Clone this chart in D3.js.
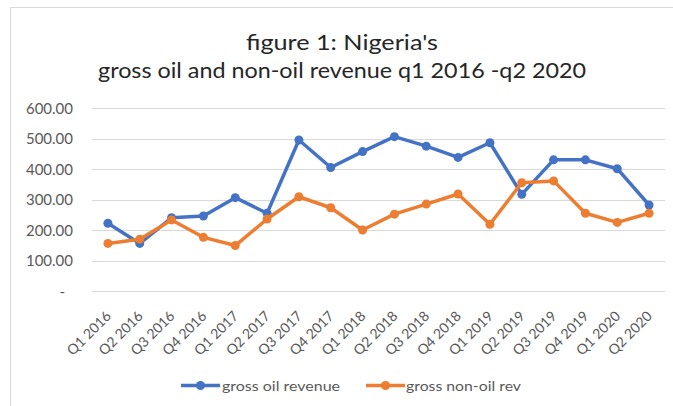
<!DOCTYPE html>
<html>
<head>
<meta charset="utf-8">
<script src="https://cdn.jsdelivr.net/npm/d3@7"></script>
<style>
  html, body { margin: 0; padding: 0; background: #ffffff; }
  svg { display: block; }
  text { font-family: Lato, "Liberation Sans", Arial, sans-serif; }
</style>
</head>
<body>
<svg id="chart" width="673" height="406"></svg>
<script>
const categories = ["Q1 2016","Q2 2016","Q3 2016","Q4 2016","Q1 2017","Q2 2017","Q3 2017","Q4 2017","Q1 2018","Q2 2018","Q3 2018","Q4 2018","Q1 2019","Q2 2019","Q3 2019","Q4 2019","Q1 2020","Q2 2020"];
const oilRevenue = [222, 156, 240, 246, 306, 255, 495, 405, 457, 506, 475, 438, 486, 317, 430, 430, 401, 282];
const nonOilRevenue = [156, 170, 233, 176, 149, 236, 309, 273, 200, 252, 285, 318, 219, 355, 361, 255, 225, 255];
const yTicks = [0, 100, 200, 300, 400, 500, 600];
const seriesNames = ["gross oil revenue", "gross non-oil rev"];
const titleLines = ["figure 1: Nigeria's", "gross oil and non-oil revenue q1 2016 -q2 2020"];

(function () {
const colors = ["#4472C4", "#ED7D31"];
const font = "Lato, 'Liberation Sans', Arial, sans-serif";
const svg = d3.select("#chart");

// chart frame
svg.append("rect").attr("x", 10.5).attr("y", 7.5).attr("width", 700).attr("height", 420)
  .attr("fill", "none").attr("stroke", "#d9d9d9").attr("stroke-width", 1);

const pLeft = 92, pRight = 665, pTop = 108, pBottom = 291;
const x = d3.scaleBand().domain(categories).range([pLeft, pRight]);
const y = d3.scaleLinear().domain([0, 600]).range([pBottom, pTop]);

// gridlines
svg.append("g").selectAll("line").data(yTicks).join("line")
  .attr("x1", pLeft).attr("x2", pRight)
  .attr("y1", d => Math.round(y(d)) + 0.5).attr("y2", d => Math.round(y(d)) + 0.5)
  .attr("stroke", "#d9d9d9").attr("stroke-width", 1);

// y axis labels
const yAxis = d3.axisLeft(y).tickValues(yTicks).tickSize(0).tickPadding(0)
  .tickFormat(d => d === 0 ? "-" : d3.format(".2f")(d));
const yg = svg.append("g").attr("transform", `translate(${pLeft - 19},0)`).call(yAxis);
yg.select(".domain").remove();
yg.selectAll("text").attr("fill", "#595959").style("font-size", "15px")
  .style("font-family", font)
  .attr("dy", "0.35em");
yg.selectAll(".tick").filter(d => d === 0).select("text").attr("x", -8);

// x axis labels
const xAxis = d3.axisBottom(x).tickSize(0).tickPadding(0);
const xg = svg.append("g").attr("transform", `translate(0,${pBottom})`).call(xAxis);
xg.select(".domain").remove();
xg.selectAll("text")
  .attr("fill", "#595959").style("font-size", "14px")
  .style("font-family", font)
  .attr("text-anchor", "end")
  .attr("dy", 0).attr("y", 0)
  .attr("transform", "translate(4,26) rotate(-45)");

// lines
const seriesData = [oilRevenue, nonOilRevenue];
const line = d3.line().x((d, i) => x(categories[i]) + x.bandwidth() / 2).y(d => y(d));
seriesData.forEach((vals, si) => {
  const g = svg.append("g");
  g.append("path").datum(vals).attr("d", line)
    .attr("fill", "none").attr("stroke", colors[si]).attr("stroke-width", 3.5)
    .attr("stroke-linejoin", "round").attr("stroke-linecap", "round");
  g.selectAll("circle").data(vals).join("circle")
    .attr("cx", (d, i) => x(categories[i]) + x.bandwidth() / 2)
    .attr("cy", d => y(d)).attr("r", 4.5).attr("fill", colors[si]);
});

// title
const titleG = svg.append("g");
const titleY = [50, 78];
const titleW = [192, 488];
titleLines.forEach((t, i) => {
  titleG.append("text").attr("x", 342).attr("y", titleY[i]).attr("text-anchor", "middle")
    .attr("fill", "#262626").style("font-size", "21px")
    .attr("textLength", titleW[i]).attr("lengthAdjust", "spacingAndGlyphs")
    .text(t);
});

// legend
const legendItems = [
  { lx1: 181, lx2: 220, tx: 222, tw: 118 },
  { lx1: 366, lx2: 405, tx: 406, tw: 115 }
];
const ly = 385.5;
legendItems.forEach((it, i) => {
  const g = svg.append("g");
  g.append("line").attr("x1", it.lx1).attr("x2", it.lx2).attr("y1", ly).attr("y2", ly)
    .attr("stroke", colors[i]).attr("stroke-width", 3.5);
  g.append("circle").attr("cx", (it.lx1 + it.lx2) / 2).attr("cy", ly).attr("r", 4.5).attr("fill", colors[i]);
  g.append("text").attr("x", it.tx).attr("y", ly + 5).attr("fill", "#595959")
    .style("font-size", "14px")
    .attr("textLength", it.tw).attr("lengthAdjust", "spacingAndGlyphs")
    .text(seriesNames[i]);
});
})();
</script>
</body>
</html>
